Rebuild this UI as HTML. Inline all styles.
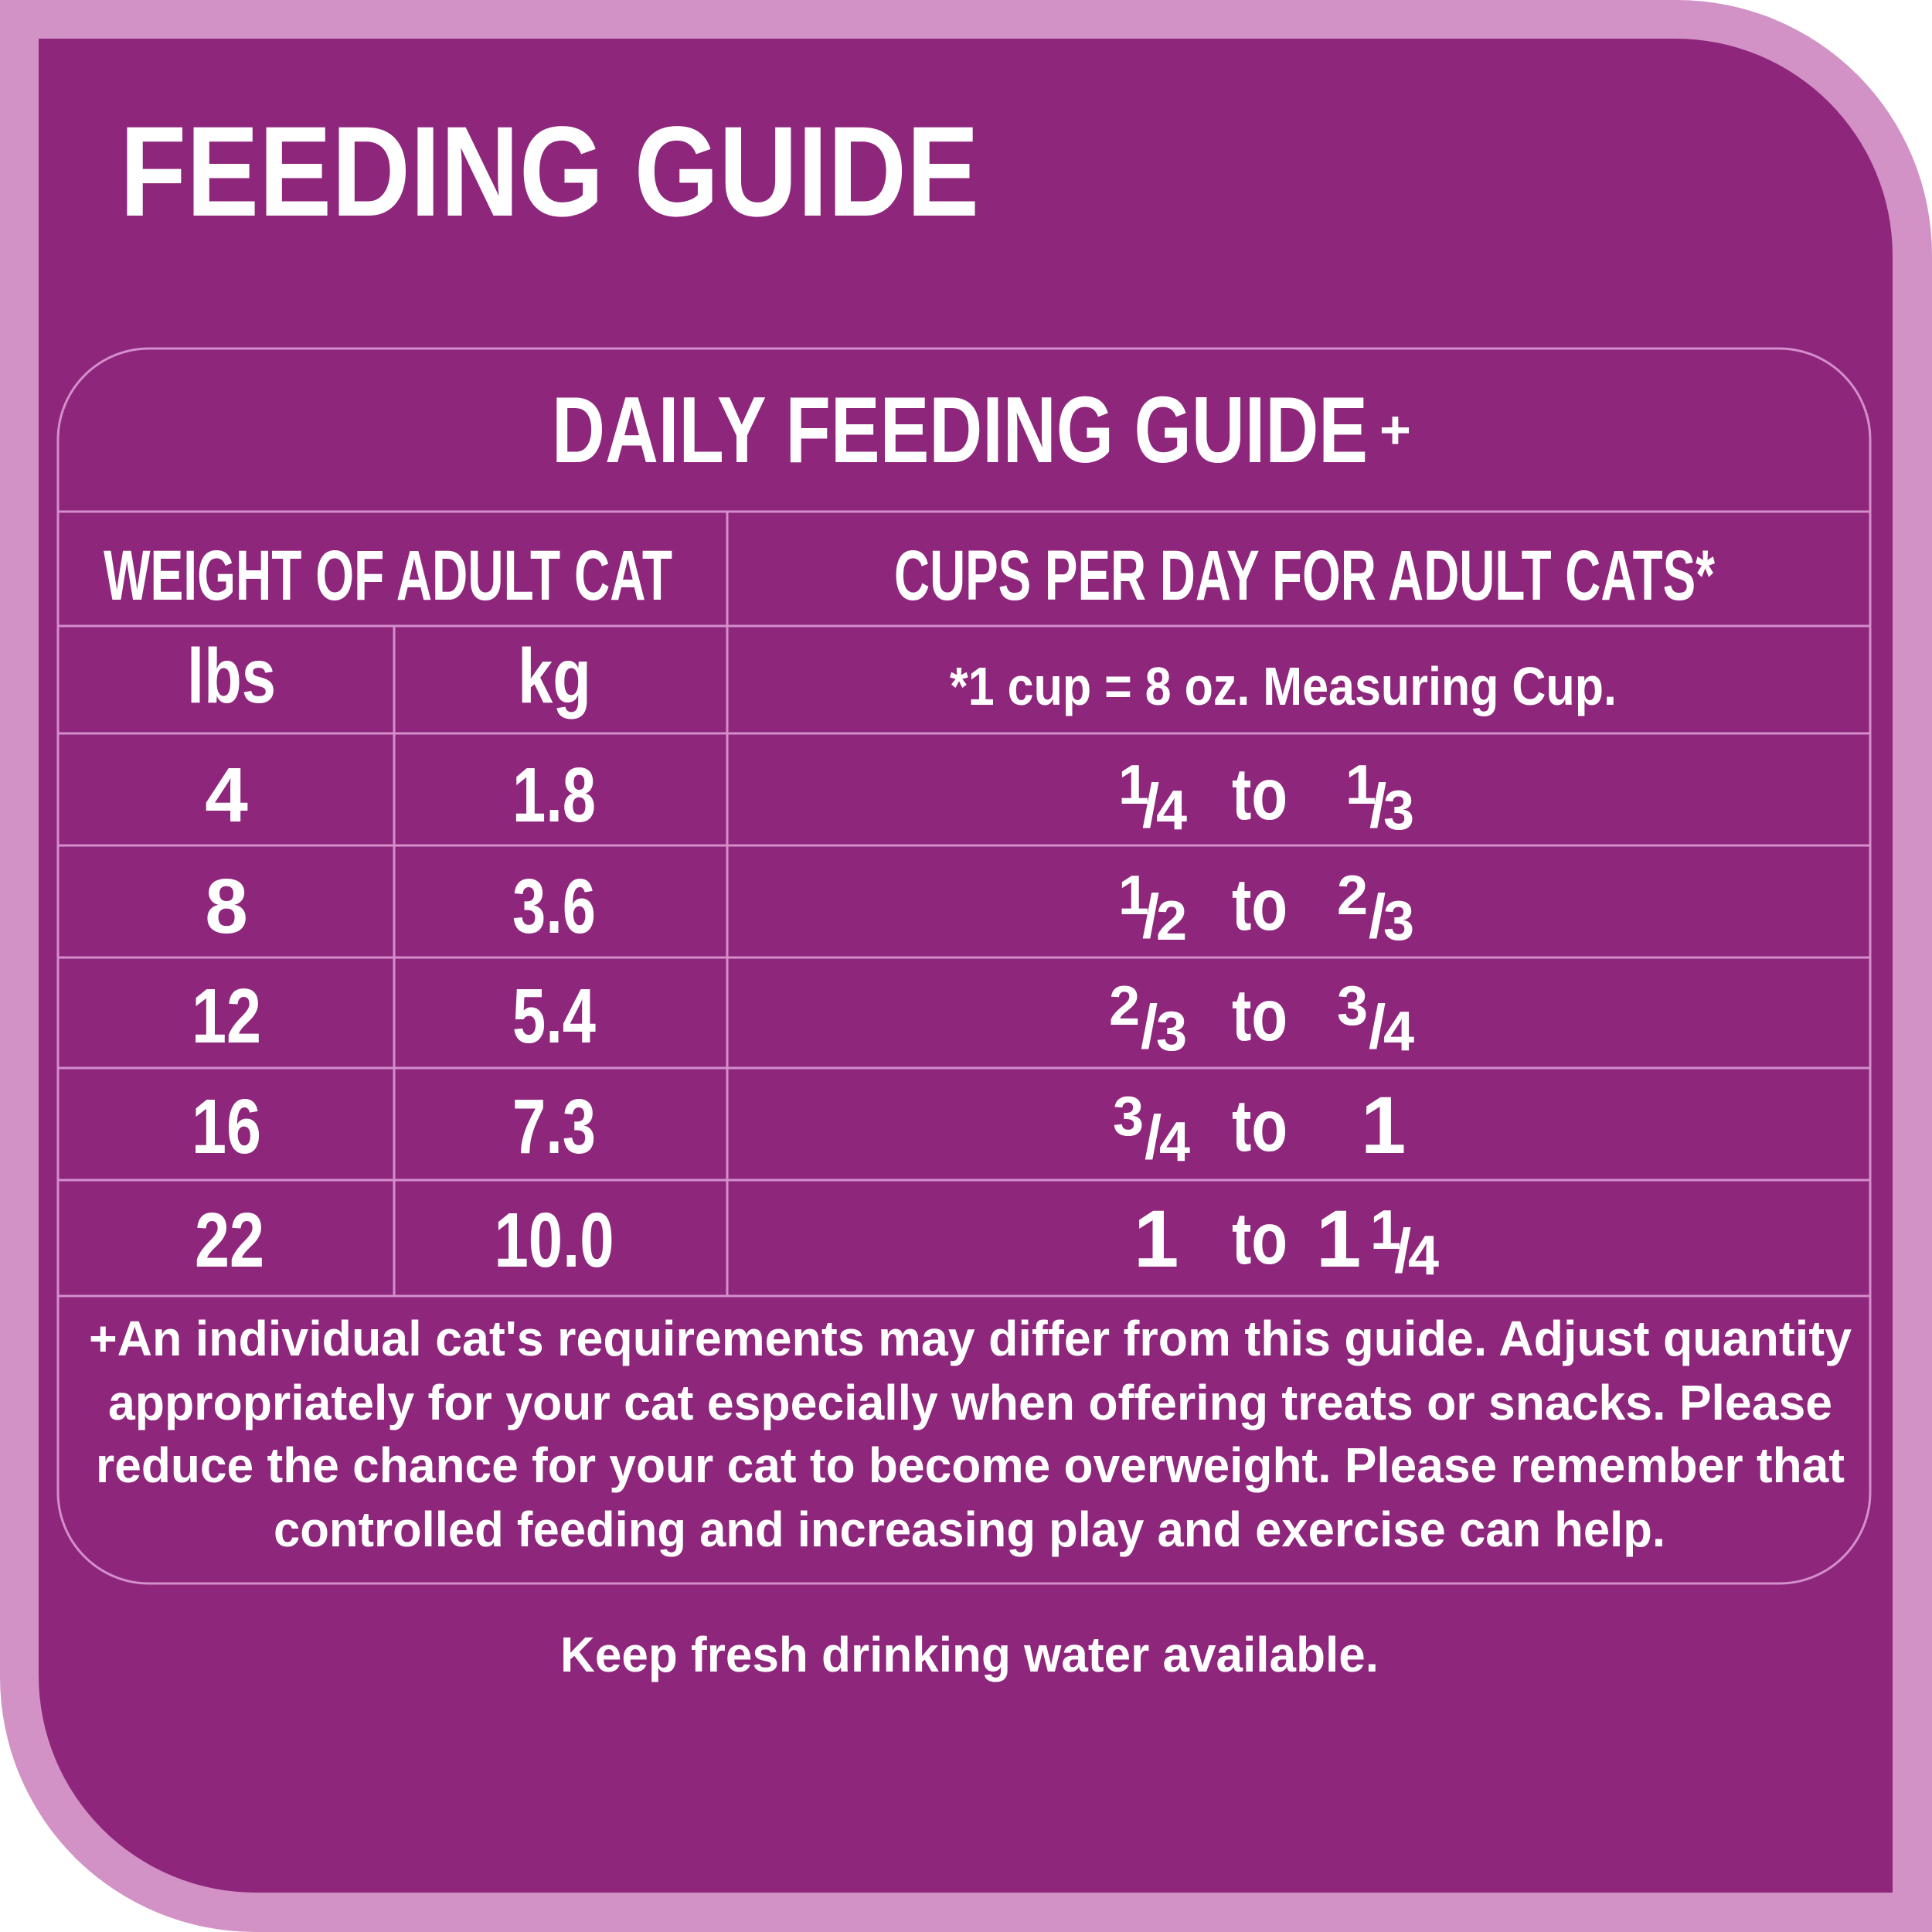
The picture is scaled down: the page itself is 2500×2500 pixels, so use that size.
<!DOCTYPE html>
<html><head><meta charset="utf-8"><style>
html,body{margin:0;padding:0;background:#fff;}
svg{display:block;}
text{font-family:"Liberation Sans",sans-serif;font-weight:bold;fill:#fff;}
</style></head><body>
<svg width="2500" height="2500" viewBox="0 0 2500 2500" xmlns="http://www.w3.org/2000/svg">
<path d="M0 0 H2170 A330 330 0 0 1 2500 330 V2500 H330 A330 330 0 0 1 0 2170 Z" fill="#d292c5"/>
<path d="M50 50 H2168 A281 281 0 0 1 2449 331 V2449 H331 A281 281 0 0 1 50 2168 Z" fill="#8e267c"/>
<g fill="none" stroke="#d48fcb" stroke-width="3">
<rect x="75" y="451" width="2345" height="1598" rx="118" ry="118"/>
<line x1="75" y1="662" x2="2420" y2="662"/>
<line x1="75" y1="810" x2="2420" y2="810"/>
<line x1="75" y1="949" x2="2420" y2="949"/>
<line x1="75" y1="1094" x2="2420" y2="1094"/>
<line x1="75" y1="1239" x2="2420" y2="1239"/>
<line x1="75" y1="1382" x2="2420" y2="1382"/>
<line x1="75" y1="1527" x2="2420" y2="1527"/>
<line x1="75" y1="1677" x2="2420" y2="1677"/>
<line x1="941" y1="662" x2="941" y2="1677"/>
<line x1="510" y1="810" x2="510" y2="1677"/>
</g>
<text x="155" y="279" font-size="166" textLength="1112" lengthAdjust="spacingAndGlyphs">FEEDING GUIDE</text>
<text x="714" y="598" font-size="122" textLength="1056" lengthAdjust="spacingAndGlyphs">DAILY FEEDING GUIDE</text>
<text x="1785" y="580" font-size="70">+</text>
<text x="134" y="776" font-size="92" textLength="736" lengthAdjust="spacingAndGlyphs">WEIGHT OF ADULT CAT</text>
<text x="1157" y="776" font-size="92" textLength="1062" lengthAdjust="spacingAndGlyphs">CUPS PER DAY FOR ADULT CATS*</text>
<text x="242" y="909" font-size="100" textLength="115" lengthAdjust="spacingAndGlyphs">lbs</text>
<text x="670" y="909" font-size="100" textLength="95" lengthAdjust="spacingAndGlyphs">kg</text>
<text x="1229" y="912" font-size="70" textLength="863" lengthAdjust="spacingAndGlyphs">*1 cup = 8 oz. Measuring Cup.</text>
<g font-size="100" text-anchor="middle">
<text x="293" y="1063">4</text><text x="717" y="1063" textLength="108" lengthAdjust="spacingAndGlyphs">1.8</text>
<text x="293" y="1207">8</text><text x="717" y="1207" textLength="108" lengthAdjust="spacingAndGlyphs">3.6</text>
<text x="293" y="1349" textLength="90" lengthAdjust="spacingAndGlyphs">12</text><text x="717" y="1349" textLength="108" lengthAdjust="spacingAndGlyphs">5.4</text>
<text x="293" y="1492" textLength="90" lengthAdjust="spacingAndGlyphs">16</text><text x="717" y="1492" textLength="108" lengthAdjust="spacingAndGlyphs">7.3</text>
<text x="297" y="1639" textLength="90" lengthAdjust="spacingAndGlyphs">22</text><text x="717" y="1639" textLength="155" lengthAdjust="spacingAndGlyphs">10.0</text>
</g>
<g font-size="95">
<text x="1594" y="1060" textLength="72" lengthAdjust="spacingAndGlyphs">to</text>
<text x="1594" y="1203" textLength="72" lengthAdjust="spacingAndGlyphs">to</text>
<text x="1594" y="1346" textLength="72" lengthAdjust="spacingAndGlyphs">to</text>
<text x="1594" y="1489" textLength="72" lengthAdjust="spacingAndGlyphs">to</text>
<text x="1594" y="1635" textLength="72" lengthAdjust="spacingAndGlyphs">to</text>
</g>
<g font-size="72">
<text x="1447" y="1040">1</text><text x="1478" y="1070" font-size="80">/</text><text x="1496" y="1073">4</text>
<text x="1741" y="1040">1</text><text x="1772" y="1070" font-size="80">/</text><text x="1790" y="1073">3</text>
<text x="1447" y="1183">1</text><text x="1478" y="1213" font-size="80">/</text><text x="1496" y="1216">2</text>
<text x="1730" y="1183">2</text><text x="1771" y="1213" font-size="80">/</text><text x="1790" y="1216">3</text>
<text x="1435" y="1326">2</text><text x="1476" y="1356" font-size="80">/</text><text x="1496" y="1359">3</text>
<text x="1730" y="1326">3</text><text x="1771" y="1356" font-size="80">/</text><text x="1790" y="1359">4</text>
<text x="1440" y="1469">3</text><text x="1481" y="1499" font-size="80">/</text><text x="1500" y="1502">4</text>
<text x="1761" y="1492" font-size="105">1</text>
<text x="1467" y="1639" font-size="105">1</text>
<text x="1703" y="1639" font-size="105">1</text>
<text x="1773" y="1616">1</text><text x="1804" y="1646" font-size="80">/</text><text x="1822" y="1649">4</text>
</g>
<g font-size="64">
<text x="115" y="1754" textLength="2281" lengthAdjust="spacingAndGlyphs">+An individual cat's requirements may differ from this guide.  Adjust quantity</text>
<text x="140" y="1837" textLength="2231" lengthAdjust="spacingAndGlyphs">appropriately for your cat especially when offering treats or snacks.  Please</text>
<text x="124" y="1918" textLength="2263" lengthAdjust="spacingAndGlyphs">reduce the chance for your cat to become overweight.  Please remember that</text>
<text x="354" y="2001" textLength="1801" lengthAdjust="spacingAndGlyphs">controlled feeding and increasing play and exercise can help.</text>
<text x="725" y="2163" textLength="1059" lengthAdjust="spacingAndGlyphs">Keep fresh drinking water available.</text>
</g>
</svg>
</body></html>
